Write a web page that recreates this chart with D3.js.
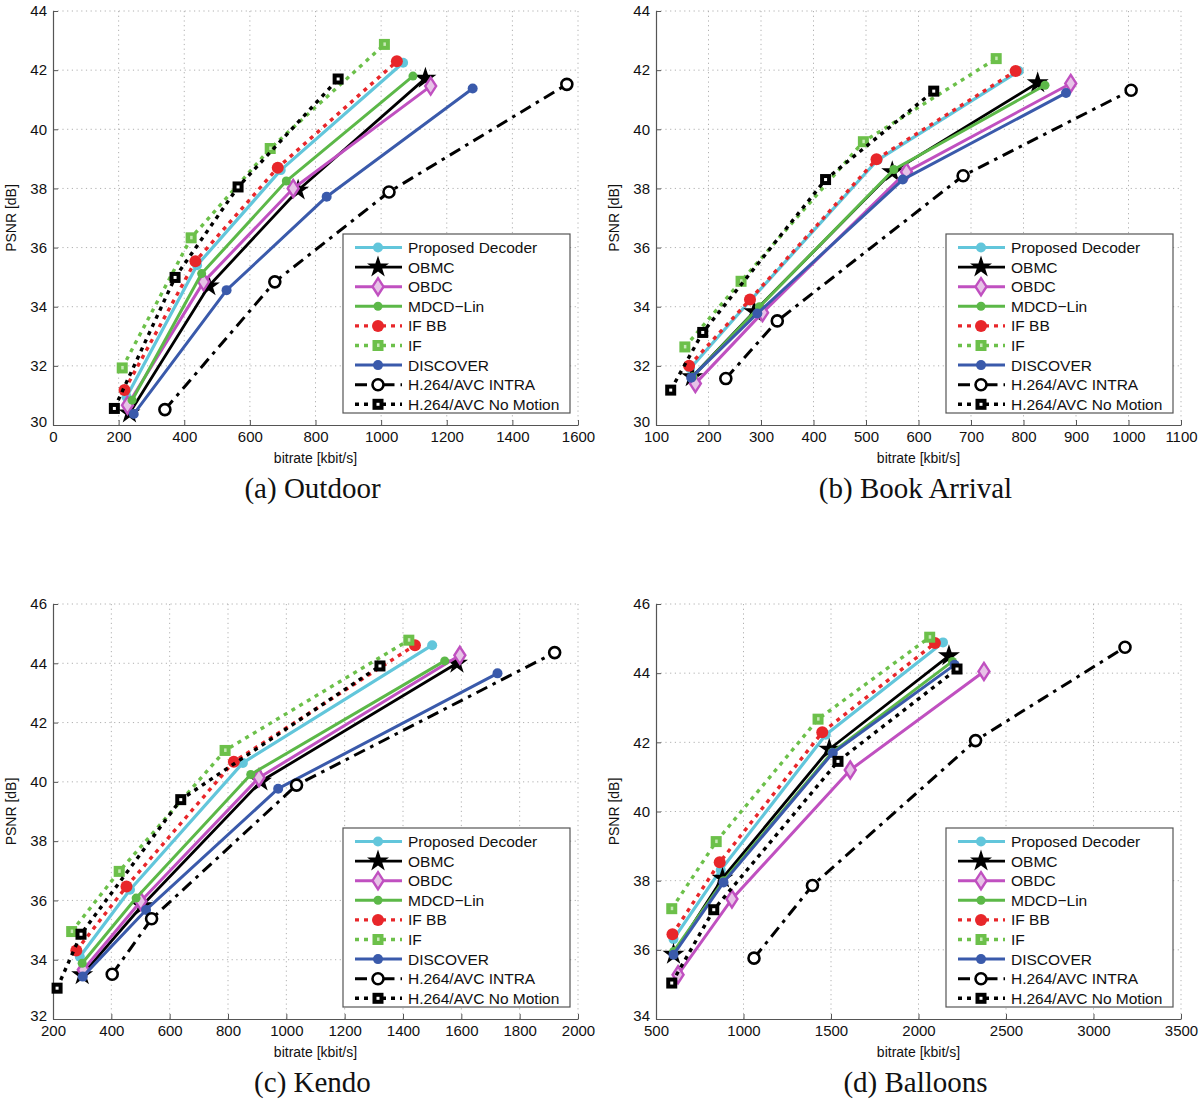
<!DOCTYPE html>
<html><head><meta charset="utf-8">
<script src="https://cdn.jsdelivr.net/npm/d3@7"></script>
<style>body{margin:0;background:#fff}</style>
</head><body>
<svg id="c" width="1200" height="1103"></svg>
<script>
// ---------- data ----------
const seriesNames = ["Proposed Decoder","OBMC","OBDC","MDCD\u2212Lin","IF BB","IF","DISCOVER","H.264/AVC INTRA","H.264/AVC No Motion"];

// each panel: 9 series (legend order), each a list of [bitrate kbit/s, PSNR dB]
const outdoorData = [
  [[224,30.95],[439,35.4],[694,38.62],[1067,42.25]],
  [[233,30.4],[475,34.7],[747,37.94],[1135,41.72]],
  [[227,30.67],[459,34.84],[732,38.0],[1151,41.46]],
  [[241,30.84],[453,35.12],[711,38.25],[1097,41.8]],
  [[218,31.18],[434,35.54],[685,38.7],[1048,42.3]],
  [[211,31.93],[421,36.33],[662,39.35],[1010,42.87]],
  [[246,30.37],[529,34.56],[834,37.72],[1279,41.38]],
  [[341,30.52],[676,34.84],[1024,37.88],[1566,41.52]],
  [[187,30.56],[372,34.99],[564,38.05],[869,41.7]]
];
const bookData = [
  [[165,31.91],[280,34.22],[522,38.96],[791,41.97]],
  [[169,31.63],[287,33.83],[550,38.56],[827,41.57]],
  [[175,31.4],[303,33.8],[577,38.56],[890,41.55]],
  [[170,31.63],[297,34.0],[553,38.64],[841,41.49]],
  [[163,32.0],[279,34.24],[520,38.99],[785,41.97]],
  [[155,32.64],[262,34.86],[495,39.58],[748,42.39]],
  [[167,31.6],[293,33.77],[570,38.3],[881,41.23]],
  [[233,31.57],[331,33.52],[685,38.43],[1005,41.32]],
  [[128,31.18],[189,33.13],[423,38.3],[629,41.29]]
];
const kendoData = [
  [[292,34.1],[464,36.36],[851,40.64],[1500,44.61]],
  [[300,33.49],[505,35.82],[913,40.02],[1585,44.0]],
  [[304,33.66],[501,35.97],[906,40.14],[1595,44.27]],
  [[300,33.88],[485,36.08],[878,40.25],[1543,44.08]],
  [[280,34.31],[452,36.47],[820,40.68],[1441,44.61]],
  [[264,34.95],[427,36.98],[790,41.06],[1420,44.78]],
  [[302,33.43],[519,35.68],[972,39.77],[1724,43.66]],
  [[403,33.51],[538,35.38],[1035,39.89],[1920,44.36]],
  [[214,33.04],[296,34.86],[638,39.4],[1321,43.91]]
];
const balloonsData = [
  [[600,36.31],[870,38.31],[1470,42.22],[2140,44.89]],
  [[600,35.87],[880,38.07],[1490,41.8],[2174,44.5]],
  [[626,35.28],[934,37.47],[1610,41.2],[2374,44.05]],
  [[600,35.95],[886,38.0],[1506,41.71],[2194,44.34]],
  [[594,36.45],[864,38.53],[1450,42.29],[2094,44.87]],
  [[590,37.19],[844,39.13],[1426,42.67],[2064,45.04]],
  [[600,35.86],[886,37.95],[1510,41.69],[2206,44.24]],
  [[1060,35.76],[1394,37.86],[2326,42.05],[3180,44.75]],
  [[590,35.04],[830,37.16],[1540,41.45],[2220,44.12]]
];

const outdoorXTicks = [0,200,400,600,800,1000,1200,1400,1600];
const outdoorYTicks = [30,32,34,36,38,40,42,44];
const bookXTicks = [100,200,300,400,500,600,700,800,900,1000,1100];
const bookYTicks = [30,32,34,36,38,40,42,44];
const kendoXTicks = [200,400,600,800,1000,1200,1400,1600,1800,2000];
const kendoYTicks = [32,34,36,38,40,42,44,46];
const balloonsXTicks = [500,1000,1500,2000,2500,3000,3500];
const balloonsYTicks = [34,36,38,40,42,44,46];

const captions = ["(a) Outdoor","(b) Book Arrival","(c) Kendo","(d) Balloons"];

// ---------- styles ----------
const styles = [
  {color:"#62c6db", width:3.2, dash:null, marker:"circle", r:5},
  {color:"#000000", width:2.8, dash:null, marker:"star"},
  {color:"#c050c0", width:3, dash:null, marker:"diamond"},
  {color:"#5cb848", width:3, dash:null, marker:"circle", r:4.5},
  {color:"#e8262a", width:3.4, dash:"4,5", marker:"circle", r:6},
  {color:"#6cc04a", width:3.4, dash:"4,5", marker:"square"},
  {color:"#3a5aab", width:3, dash:null, marker:"circle", r:5},
  {color:"#000000", width:3, dash:"12,6,3.5,6", marker:"ocircle"},
  {color:"#000000", width:3.4, dash:"4,5", marker:"bsquare"}
];

const panels = [
  {data:outdoorData, xt:outdoorXTicks, yt:outdoorYTicks, left:53, top:11, w:525, h:414},
  {data:bookData, xt:bookXTicks, yt:bookYTicks, left:656, top:11, w:525, h:414},
  {data:kendoData, xt:kendoXTicks, yt:kendoYTicks, left:53, top:604, w:525, h:415},
  {data:balloonsData, xt:balloonsXTicks, yt:balloonsYTicks, left:656, top:604, w:525, h:415}
];

const svg = d3.select("#c");
const sans = "'Liberation Sans', Arial, Helvetica, sans-serif";
const serif = "'Liberation Serif', 'Times New Roman', serif";

function drawMarker(g, st, x, y) {
  if (st.marker === "circle") {
    g.append("circle").attr("cx",x).attr("cy",y).attr("r",st.r).attr("fill",st.color);
  } else if (st.marker === "star") {
    g.append("path").attr("d", d3.symbol(d3.symbolStar, 150)()).attr("transform",`translate(${x},${y})`).attr("fill","#000");
  } else if (st.marker === "diamond") {
    g.append("path").attr("d", `M0,-8.5L5.5,0L0,8.5L-5.5,0Z`).attr("transform",`translate(${x},${y})`)
      .attr("fill","#e7c3e7").attr("stroke",st.color).attr("stroke-width",2.4);
  } else if (st.marker === "square") {
    g.append("rect").attr("x",x-5.5).attr("y",y-5.5).attr("width",11).attr("height",11).attr("fill",st.color);
    g.append("rect").attr("x",x-1).attr("y",y-2).attr("width",2.5).attr("height",3.5).attr("fill","#c8eab8");
  } else if (st.marker === "ocircle") {
    g.append("circle").attr("cx",x).attr("cy",y).attr("r",5.5).attr("fill","#fff").attr("stroke","#000").attr("stroke-width",2.6);
  } else if (st.marker === "bsquare") {
    g.append("rect").attr("x",x-5.5).attr("y",y-5.5).attr("width",11).attr("height",11).attr("fill","#000");
    g.append("rect").attr("x",x-1.5).attr("y",y-1.5).attr("width",3).attr("height",3).attr("fill","#fff");
  }
}

panels.forEach((p, pi) => {
  const x = d3.scaleLinear().domain(d3.extent(p.xt)).range([p.left, p.left + p.w]);
  const y = d3.scaleLinear().domain(d3.extent(p.yt)).range([p.top + p.h, p.top]);
  const g = svg.append("g");

  // grid
  g.append("g").selectAll("line").data(p.xt.slice(1)).join("line")
    .attr("x1",d=>x(d)).attr("x2",d=>x(d)).attr("y1",p.top).attr("y2",p.top+p.h)
    .attr("stroke","#b0b0b0").attr("stroke-width",1).attr("stroke-dasharray","1.2,3.5");
  g.append("g").selectAll("line").data(p.yt.slice(1)).join("line")
    .attr("x1",p.left).attr("x2",p.left+p.w).attr("y1",d=>y(d)).attr("y2",d=>y(d))
    .attr("stroke","#b0b0b0").attr("stroke-width",1).attr("stroke-dasharray","1.2,3.5");

  // axes
  const xAxis = d3.axisBottom(x).tickValues(p.xt).tickSizeInner(-5).tickSizeOuter(0).tickPadding(9).tickFormat(d3.format("d"));
  const yAxis = d3.axisLeft(y).tickValues(p.yt).tickSizeInner(-5).tickSizeOuter(0).tickPadding(9).tickFormat(d3.format("d"));
  const xa = g.append("g").attr("transform",`translate(0,${p.top+p.h})`).call(xAxis);
  const ya = g.append("g").attr("transform",`translate(${p.left},0)`).call(yAxis);
  [xa, ya].forEach(a => {
    a.select(".domain").attr("stroke","#555").attr("stroke-width",1.2);
    a.selectAll(".tick line").attr("stroke","#555");
    a.selectAll(".tick text").attr("font-family",sans).attr("font-size",15).attr("fill","#111");
  });
  xa.selectAll(".tick text").attr("dy","0.55em");
  ya.selectAll(".tick text").attr("dx","3");
  // first y tick label slightly raised (MATLAB style)
  ya.selectAll(".tick text").filter((d,i)=>i===0).attr("dy","0.1em");

  // labels
  g.append("text").attr("x", p.left + p.w/2).attr("y", p.top + p.h + 38)
    .attr("text-anchor","middle").attr("font-family",sans).attr("font-size",14).attr("fill","#111")
    .text("bitrate [kbit/s]");
  g.append("text").attr("transform",`translate(${p.left-37},${p.top + p.h/2}) rotate(-90)`)
    .attr("text-anchor","middle").attr("font-family",sans).attr("font-size",14).attr("fill","#111")
    .text("PSNR [dB]");
  g.append("text").attr("x", p.left + p.w/2 - 3).attr("y", p.top + p.h + 73)
    .attr("text-anchor","middle").attr("font-family",serif).attr("font-size",29).attr("fill","#111")
    .text(captions[pi]);

  // series
  const line = d3.line().x(d=>x(d[0])).y(d=>y(d[1]));
  p.data.forEach((s, si) => {
    const st = styles[si];
    const sg = g.append("g");
    sg.append("path").datum(s).attr("d", line).attr("fill","none")
      .attr("stroke", st.color).attr("stroke-width", st.width)
      .attr("stroke-dasharray", st.dash).attr("stroke-linejoin","round");
    s.forEach(d => drawMarker(sg, st, x(d[0]), y(d[1])));
  });

  // legend
  const bw = 227, bh = 179;
  const bx = p.left + p.w - 8 - bw, by = p.top + p.h - 12 - bh;
  const lg = g.append("g");
  lg.append("rect").attr("x",bx).attr("y",by).attr("width",bw).attr("height",bh)
    .attr("fill","#fff").attr("stroke","#555").attr("stroke-width",1.2);
  seriesNames.forEach((nm, i) => {
    const st = styles[i];
    const ry = by + 13.5 + i * 19.6;
    lg.append("line").attr("x1",bx+12).attr("x2",bx+59).attr("y1",ry).attr("y2",ry)
      .attr("stroke",st.color).attr("stroke-width",st.width).attr("stroke-dasharray",st.dash);
    drawMarker(lg, st, bx+35, ry);
    lg.append("text").attr("x",bx+65).attr("y",ry).attr("dy","0.36em")
      .attr("font-family",sans).attr("font-size",15.5).attr("fill","#111").text(nm);
  });
});
</script>
</body></html>
